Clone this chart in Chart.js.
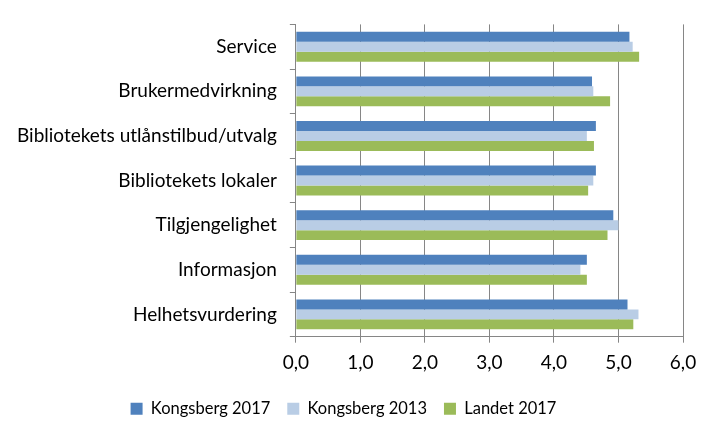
<!DOCTYPE html>
<html>
<head>
<meta charset="utf-8">
<script src="https://cdn.jsdelivr.net/npm/chart.js@4"></script>
<style>
html,body{margin:0;padding:0;background:#fff;}
#wrap{width:720px;height:439px;}
</style>
</head>
<body>
<div id="wrap"><canvas id="c" width="720" height="439"></canvas></div>
<script>
const categories = ["Service","Brukermedvirkning","Bibliotekets utlånstilbud/utvalg","Bibliotekets lokaler","Tilgjengelighet","Informasjon","Helhetsvurdering"];
const kongsberg2017 = [5.17,4.59,4.65,4.65,4.92,4.51,5.14];
const kongsberg2013 = [5.22,4.61,4.51,4.61,5.00,4.41,5.31];
const landet2017 = [5.32,4.87,4.62,4.53,4.83,4.51,5.23];
const seriesNames = ["Kongsberg 2017","Kongsberg 2013","Landet 2017"];
const colors = ["#4F81BD","#B9CDE5","#9BBB59"];

Chart.defaults.font.family = "Lato, 'Open Sans', sans-serif";
Chart.defaults.color = "#000";

new Chart(document.getElementById('c'), {
  type: 'bar',
  data: {
    labels: categories,
    datasets: [kongsberg2017, kongsberg2013, landet2017].map((d,i)=>({
      label: seriesNames[i], data: d, backgroundColor: colors[i],
      barPercentage: 1.0, categoryPercentage: 0.67
    }))
  },
  options: {
    indexAxis: 'y',
    responsive: false,
    animation: false,
    devicePixelRatio: 1,
    layout: { padding: { top: 20, right: 37, left: 4, bottom: 12 } },
    plugins: {
      legend: {
        position: 'bottom',
        labels: { boxWidth: 12, boxHeight: 12, font: { size: 16.5 }, padding: 17 }
      },
      tooltip: { enabled: false }
    },
    scales: {
      x: {
        min: 0, max: 6,
        ticks: { stepSize: 1, font: { size: 19 }, padding: 9,
          callback: v => v.toFixed(1).replace('.', ',') },
        grid: { color: '#868686', tickLength: 6, drawTicks: true },
        border: { color: '#868686' }
      },
      y: {
        ticks: { font: { size: 19 }, padding: 13 },
        grid: { offset: true, drawOnChartArea: false, tickLength: 6, color: '#868686' },
        border: { color: '#868686' }
      }
    }
  }
});
</script>
</body>
</html>
